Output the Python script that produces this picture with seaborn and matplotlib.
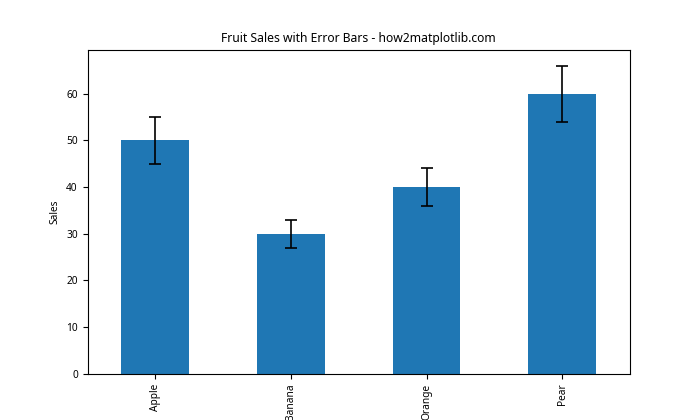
import matplotlib
matplotlib.use('Agg')
import matplotlib.pyplot as plt
import seaborn as sns
import pandas as pd

fruits = ['Apple', 'Banana', 'Orange', 'Pear']
sales = [50, 30, 40, 60]
errors = [5, 3, 4, 6]

plt.rcParams['font.family'] = ['Noto Sans', 'DejaVu Sans']
plt.rcParams['font.size'] = 7.3

df = pd.DataFrame({'Fruit': fruits, 'Sales': sales, 'Error': errors})

fig, ax = plt.subplots(figsize=(7, 4.2), dpi=100)
sns.barplot(data=df, x='Fruit', y='Sales', color='#1f77b4', saturation=1,
            width=0.5, errorbar=None, ax=ax)
ax.errorbar(range(len(fruits)), df['Sales'], yerr=df['Error'], fmt='none',
            ecolor='black', capsize=4, elinewidth=1.2, capthick=1.2)
ax.set_title('Fruit Sales with Error Bars - how2matplotlib.com')
ax.tick_params(axis='x', labelrotation=90)
ax.set_xlim(-0.5, len(fruits) - 0.5)
fig.savefig('out.png', dpi=100)
